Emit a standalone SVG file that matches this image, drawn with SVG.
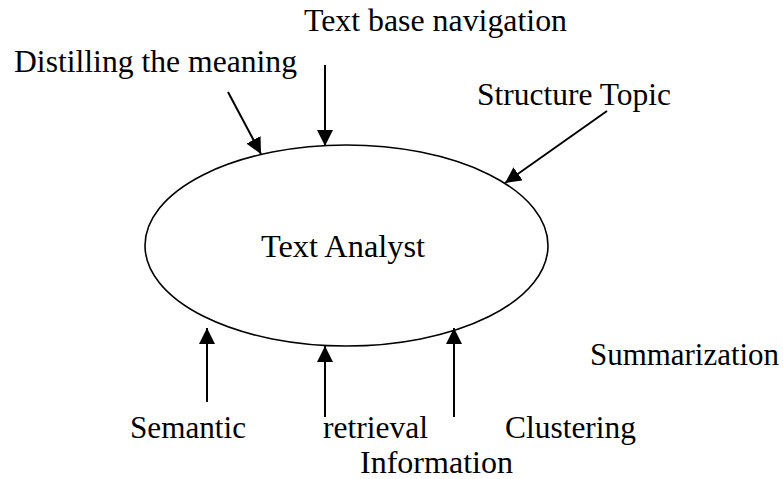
<svg xmlns="http://www.w3.org/2000/svg" width="783" height="479" viewBox="0 0 783 479">
<style>
text{font-family:'Liberation Serif','DejaVu Serif',serif;font-size:31px;fill:#000}
.ln{stroke:#000;stroke-width:2;fill:none}
</style>
<defs>
<marker id="ah" markerUnits="userSpaceOnUse" markerWidth="18" markerHeight="16" refX="16" refY="8" orient="auto">
<path d="M0,0 L16,8 L0,16 Z" fill="#000"/>
</marker>
</defs>
<rect width="783" height="479" fill="#fff"/>
<g id="center">
<ellipse cx="346.5" cy="245.5" rx="201.5" ry="100.5" fill="none" stroke="#000" stroke-width="1.6"/>
<text x="261" y="257" textLength="164" lengthAdjust="spacingAndGlyphs">Text Analyst</text>
</g>
<g id="n-textbase"><text x="304" y="31" textLength="263" lengthAdjust="spacingAndGlyphs">Text base navigation</text></g>
<g id="n-distilling"><text x="14" y="72" textLength="283" lengthAdjust="spacingAndGlyphs">Distilling the meaning</text></g>
<g id="n-structure"><text x="477" y="105" textLength="194" lengthAdjust="spacingAndGlyphs">Structure Topic</text></g>
<g id="n-summarization"><text x="590" y="365" textLength="189" lengthAdjust="spacingAndGlyphs">Summarization</text></g>
<g id="n-semantic"><text x="130" y="438" textLength="116" lengthAdjust="spacingAndGlyphs">Semantic</text></g>
<g id="n-retrieval"><text x="323" y="438" textLength="105" lengthAdjust="spacingAndGlyphs">retrieval</text></g>
<g id="n-information"><text x="360" y="473" textLength="153" lengthAdjust="spacingAndGlyphs">Information</text></g>
<g id="n-clustering"><text x="505" y="438" textLength="131" lengthAdjust="spacingAndGlyphs">Clustering</text></g>
<g id="connectors">
<line class="ln" x1="228" y1="92" x2="261" y2="154" marker-end="url(#ah)"/>
<line class="ln" x1="325" y1="65" x2="325" y2="146" marker-end="url(#ah)"/>
<line class="ln" x1="607" y1="111" x2="505" y2="183" marker-end="url(#ah)"/>
<line class="ln" x1="207" y1="402" x2="207" y2="328" marker-end="url(#ah)"/>
<line class="ln" x1="325" y1="417" x2="325" y2="346" marker-end="url(#ah)"/>
<line class="ln" x1="454" y1="417" x2="454" y2="328" marker-end="url(#ah)"/>
</g>
</svg>
